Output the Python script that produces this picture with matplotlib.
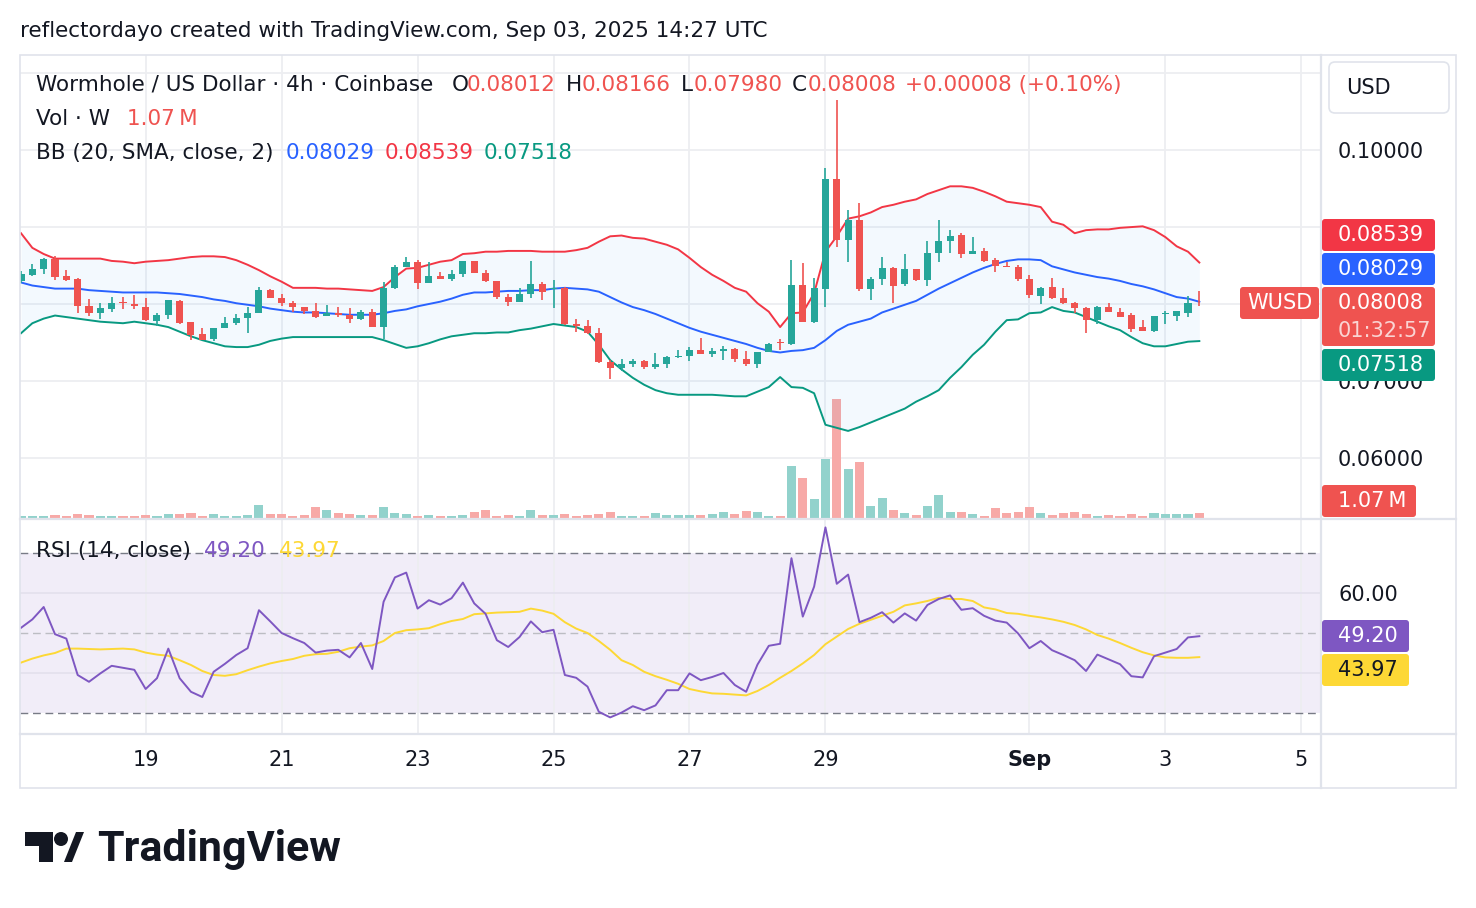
import numpy as np
import pandas as pd
import matplotlib
matplotlib.use("Agg")
import matplotlib.pyplot as plt
import matplotlib.dates as mdates
from matplotlib.patches import FancyBboxPatch, Polygon, Circle, Rectangle
from matplotlib.lines import Line2D
from matplotlib.transforms import IdentityTransform, blended_transform_factory

plt.rcParams['font.family'] = ['DejaVu Sans']

# ---------------- data ----------------
start_time = "2025-08-17 04:00"

opens = [0.08299, 0.08377, 0.08455, 0.08585, 0.08364, 0.08325, 0.07974, 0.07883, 0.07935, 0.08026,
         0.08000, 0.07961, 0.07785, 0.07857, 0.08039, 0.07766, 0.07610, 0.07545, 0.07688, 0.07753,
         0.07818, 0.07883, 0.08182, 0.08078, 0.08013, 0.07961, 0.07909, 0.07844, 0.07883, 0.07857,
         0.07805, 0.07896, 0.07701, 0.08208, 0.08481, 0.08546, 0.08273, 0.08364, 0.08325, 0.08390,
         0.08559, 0.08403, 0.08299, 0.08091, 0.08026, 0.08130, 0.08260, 0.08190, 0.08208, 0.07740,
         0.07714, 0.07623, 0.07246, 0.07168, 0.07220, 0.07259, 0.07181, 0.07220, 0.07311, 0.07324,
         0.07402, 0.07350, 0.07389, 0.07415, 0.07285, 0.07220, 0.07376, 0.07510, 0.07480, 0.08247,
         0.07766, 0.08195, 0.09625, 0.08832, 0.09092, 0.08195, 0.08325, 0.08468, 0.08260, 0.08455,
         0.08312, 0.08663, 0.08819, 0.08897, 0.08650, 0.08689, 0.08572, 0.08494, 0.08481, 0.08325,
         0.08108, 0.08221, 0.08078, 0.08013, 0.07948, 0.07792, 0.07961, 0.07896, 0.07857, 0.07701,
         0.07649, 0.07870, 0.07848, 0.07887, 0.08012]
highs = [0.08429, 0.08520, 0.08598, 0.08624, 0.08442, 0.08338, 0.08065, 0.08013, 0.08091, 0.08091,
         0.08117, 0.08078, 0.07883, 0.08058, 0.08052, 0.07770, 0.07688, 0.07690, 0.07831, 0.07870,
         0.07961, 0.08221, 0.08195, 0.08130, 0.08039, 0.07965, 0.08013, 0.07987, 0.07961, 0.07948,
         0.07922, 0.07935, 0.08286, 0.08507, 0.08611, 0.08572, 0.08546, 0.08416, 0.08442, 0.08565,
         0.08565, 0.08442, 0.08305, 0.08130, 0.08208, 0.08559, 0.08286, 0.08312, 0.08215, 0.07805,
         0.07792, 0.07688, 0.07272, 0.07285, 0.07285, 0.07272, 0.07363, 0.07324, 0.07402, 0.07441,
         0.07558, 0.07428, 0.07454, 0.07428, 0.07389, 0.07380, 0.07493, 0.07545, 0.08572, 0.08533,
         0.08338, 0.09768, 0.10652, 0.09222, 0.09313, 0.08351, 0.08611, 0.08481, 0.08650, 0.08460,
         0.08819, 0.09092, 0.08962, 0.08923, 0.08871, 0.08728, 0.08598, 0.08546, 0.08507, 0.08377,
         0.08215, 0.08338, 0.08208, 0.08026, 0.07961, 0.07974, 0.08013, 0.07948, 0.07883, 0.07792,
         0.07850, 0.07909, 0.07915, 0.08104, 0.08166]
lows = [0.08273, 0.08364, 0.08390, 0.08312, 0.08305, 0.07883, 0.07844, 0.07805, 0.07896, 0.07935,
        0.07935, 0.07779, 0.07714, 0.07805, 0.07740, 0.07532, 0.07530, 0.07519, 0.07685, 0.07727,
        0.07623, 0.07880, 0.08072, 0.07974, 0.07896, 0.07870, 0.07818, 0.07840, 0.07831, 0.07753,
        0.07792, 0.07695, 0.07545, 0.08200, 0.08475, 0.08195, 0.08270, 0.08320, 0.08299, 0.08351,
        0.08398, 0.08286, 0.08065, 0.07974, 0.08020, 0.08078, 0.08052, 0.07948, 0.07727, 0.07636,
        0.07610, 0.07233, 0.07025, 0.07129, 0.07181, 0.07155, 0.07155, 0.07168, 0.07298, 0.07259,
        0.07345, 0.07311, 0.07272, 0.07246, 0.07194, 0.07168, 0.07370, 0.07402, 0.07467, 0.07760,
        0.07753, 0.07961, 0.08741, 0.08546, 0.08169, 0.08052, 0.08247, 0.08013, 0.08234, 0.08305,
        0.08234, 0.08546, 0.08663, 0.08598, 0.08645, 0.08546, 0.08416, 0.08475, 0.08299, 0.08078,
        0.08000, 0.08065, 0.08006, 0.07883, 0.07623, 0.07740, 0.07890, 0.07825, 0.07636, 0.07645,
        0.07640, 0.07740, 0.07779, 0.07831, 0.07980]
closes = [0.08390, 0.08455, 0.08585, 0.08351, 0.08312, 0.07974, 0.07883, 0.07948, 0.08013, 0.08013,
          0.07974, 0.07792, 0.07857, 0.08052, 0.07753, 0.07597, 0.07532, 0.07688, 0.07753, 0.07818,
          0.07883, 0.08182, 0.08078, 0.08013, 0.07961, 0.07909, 0.07831, 0.07883, 0.07857, 0.07805,
          0.07896, 0.07701, 0.08208, 0.08481, 0.08546, 0.08273, 0.08364, 0.08325, 0.08390, 0.08559,
          0.08403, 0.08299, 0.08091, 0.08026, 0.08130, 0.08260, 0.08156, 0.08210, 0.07740, 0.07714,
          0.07623, 0.07246, 0.07168, 0.07220, 0.07259, 0.07181, 0.07220, 0.07311, 0.07324, 0.07402,
          0.07350, 0.07389, 0.07415, 0.07285, 0.07220, 0.07376, 0.07480, 0.07493, 0.08247, 0.07766,
          0.08208, 0.09625, 0.08832, 0.09092, 0.08195, 0.08325, 0.08468, 0.08234, 0.08455, 0.08312,
          0.08663, 0.08819, 0.08884, 0.08650, 0.08689, 0.08559, 0.08494, 0.08481, 0.08325, 0.08117,
          0.08208, 0.08078, 0.08013, 0.07948, 0.07792, 0.07961, 0.07896, 0.07831, 0.07675, 0.07649,
          0.07844, 0.07883, 0.07909, 0.08013, 0.08008]
volumes_m = [0.43, 0.43, 0.43, 0.64, 0.43, 0.86, 0.64, 0.43, 0.43, 0.43,
             0.43, 0.64, 0.43, 0.86, 0.86, 1.07, 0.43, 0.86, 0.43, 0.43,
             0.64, 2.78, 0.86, 0.86, 0.43, 0.64, 2.35, 1.71, 1.07, 0.86,
             0.64, 0.64, 2.35, 1.07, 0.86, 0.43, 0.64, 0.43, 0.43, 0.64,
             1.28, 1.71, 0.43, 0.64, 0.43, 1.71, 0.64, 0.64, 0.86, 0.43,
             0.64, 0.86, 1.28, 0.43, 0.43, 0.43, 1.07, 0.64, 0.64, 0.64,
             0.64, 0.86, 1.28, 0.86, 1.50, 1.28, 0.43, 0.43, 11.13, 8.56,
             4.07, 12.63, 25.47, 10.49, 11.98, 2.57, 4.28, 1.71, 1.07, 0.64,
             2.57, 4.92, 1.28, 1.28, 0.86, 0.43, 2.14, 1.07, 1.28, 2.35,
             1.07, 0.64, 1.07, 1.28, 0.86, 0.43, 0.64, 0.43, 0.86, 0.43,
             1.07, 0.86, 0.86, 0.86, 1.07]
bb_upper = [0.0892, 0.0873, 0.0865, 0.0859, 0.0859, 0.0859, 0.0859, 0.0859, 0.0856, 0.0855,
            0.0853, 0.0855, 0.0856, 0.0857, 0.0859, 0.0861, 0.0862, 0.0862, 0.0861, 0.0857,
            0.0851, 0.0844, 0.0836, 0.0829, 0.0821, 0.0821, 0.0821, 0.0820, 0.0820, 0.0819,
            0.0818, 0.0817, 0.0822, 0.0835, 0.0846, 0.0847, 0.0851, 0.0855, 0.0857, 0.0865,
            0.0866, 0.0868, 0.0868, 0.0869, 0.0869, 0.0869, 0.0868, 0.0868, 0.0868, 0.0870,
            0.0873, 0.0881, 0.0888, 0.0889, 0.0886, 0.0885, 0.0881, 0.0877, 0.0871, 0.0860,
            0.0848, 0.0838, 0.0830, 0.0821, 0.0816, 0.0801, 0.0790, 0.0770, 0.0788, 0.0789,
            0.0814, 0.0868, 0.0888, 0.0911, 0.0914, 0.0919, 0.0926, 0.0929, 0.0933, 0.0936,
            0.0943, 0.0948, 0.0953, 0.0953, 0.0951, 0.0946, 0.0940, 0.0933, 0.0931, 0.0929,
            0.0926, 0.0907, 0.0903, 0.0892, 0.0896, 0.0897, 0.0897, 0.0899, 0.0900, 0.0901,
            0.0896, 0.0887, 0.0875, 0.0868, 0.08539]
bb_basis = [0.0828, 0.0824, 0.0822, 0.0820, 0.0820, 0.0820, 0.0818, 0.0817, 0.0816, 0.0815,
            0.0815, 0.0815, 0.0815, 0.0814, 0.0813, 0.0811, 0.0809, 0.0806, 0.0804, 0.0801,
            0.0799, 0.0797, 0.0794, 0.0792, 0.0790, 0.0789, 0.0789, 0.0788, 0.0787, 0.0786,
            0.0786, 0.0786, 0.0788, 0.0791, 0.0793, 0.0797, 0.0800, 0.0803, 0.0807, 0.0812,
            0.0815, 0.0815, 0.0816, 0.0817, 0.0817, 0.0818, 0.0818, 0.0820, 0.0821, 0.0820,
            0.0819, 0.0816, 0.0809, 0.0802, 0.0796, 0.0792, 0.0787, 0.0781, 0.0775, 0.0769,
            0.0764, 0.0760, 0.0756, 0.0752, 0.0748, 0.0743, 0.0739, 0.0737, 0.0739, 0.0740,
            0.0743, 0.0753, 0.0765, 0.0773, 0.0777, 0.0781, 0.0789, 0.0794, 0.0799, 0.0804,
            0.0812, 0.0820, 0.0827, 0.0834, 0.0841, 0.0847, 0.0852, 0.0856, 0.0858, 0.0858,
            0.0857, 0.0849, 0.0845, 0.0841, 0.0838, 0.0835, 0.0833, 0.0830, 0.0826, 0.0823,
            0.0819, 0.0814, 0.0809, 0.0807, 0.08029]
bb_lower = [0.0762, 0.0775, 0.0781, 0.0785, 0.0783, 0.0781, 0.0779, 0.0777, 0.0776, 0.0775,
            0.0777, 0.0775, 0.0773, 0.0770, 0.0764, 0.0758, 0.0753, 0.0749, 0.0745, 0.0744,
            0.0744, 0.0747, 0.0752, 0.0755, 0.0757, 0.0757, 0.0757, 0.0757, 0.0757, 0.0757,
            0.0757, 0.0757, 0.0753, 0.0748, 0.0743, 0.0745, 0.0749, 0.0754, 0.0758, 0.0760,
            0.0762, 0.0762, 0.0763, 0.0763, 0.0766, 0.0768, 0.0771, 0.0774, 0.0772, 0.0770,
            0.0764, 0.0747, 0.0727, 0.0715, 0.0704, 0.0695, 0.0688, 0.0684, 0.0682, 0.0682,
            0.0682, 0.0682, 0.0681, 0.0680, 0.0680, 0.0686, 0.0692, 0.0705, 0.0692, 0.0691,
            0.0684, 0.0643, 0.0639, 0.0635, 0.0640, 0.0646, 0.0652, 0.0658, 0.0664, 0.0673,
            0.0680, 0.0688, 0.0704, 0.0718, 0.0734, 0.0747, 0.0764, 0.0779, 0.0780, 0.0788,
            0.0789, 0.0796, 0.0791, 0.0789, 0.0783, 0.0777, 0.0771, 0.0766, 0.0757, 0.0749,
            0.0745, 0.0745, 0.0748, 0.0751, 0.07518]
rsi = [51.3, 53.4, 56.5, 49.7, 48.6, 39.5, 37.8, 39.9, 41.8, 41.3,
       40.8, 36.0, 38.7, 46.1, 38.7, 35.3, 34.0, 40.3, 42.3, 44.5,
       46.2, 55.7, 52.9, 50.0, 48.7, 47.5, 45.1, 45.6, 45.8, 43.9,
       47.5, 41.0, 57.8, 63.9, 65.1, 56.1, 58.2, 57.1, 58.7, 62.6,
       57.4, 54.8, 48.2, 46.5, 49.0, 52.9, 50.2, 50.8, 39.5, 38.8,
       36.6, 30.3, 28.9, 30.1, 31.7, 30.7, 31.9, 35.7, 35.7, 39.9,
       38.2, 39.0, 40.0, 37.0, 35.3, 42.1, 46.8, 47.3, 68.7, 54.1,
       61.6, 76.4, 62.3, 64.6, 52.7, 53.8, 55.2, 52.6, 54.9, 53.1,
       57.0, 58.5, 59.4, 55.8, 56.2, 54.3, 53.1, 52.6, 49.9, 46.2,
       48.0, 45.7, 44.5, 43.2, 40.5, 44.6, 43.4, 42.2, 39.2, 38.9,
       44.2, 45.1, 46.0, 48.9, 49.20]
rsi_ma = [42.6, 43.6, 44.4, 45.0, 46.1, 46.1, 46.0, 45.9, 46.0, 46.1,
          45.9, 45.1, 44.6, 44.3, 43.2, 42.0, 40.5, 39.5, 39.3, 39.7,
          40.7, 41.6, 42.4, 43.0, 43.5, 44.3, 44.7, 44.8, 45.3, 46.2,
          46.6, 46.9, 48.0, 50.0, 50.7, 50.9, 51.2, 52.2, 53.0, 53.5,
          54.7, 54.9, 55.1, 55.2, 55.3, 56.1, 55.6, 54.8, 52.7, 51.1,
          50.0, 48.0, 45.8, 43.2, 42.0, 40.3, 39.2, 38.3, 37.3, 36.0,
          35.4, 34.9, 34.8, 34.6, 34.4, 35.5, 37.0, 38.8, 40.5, 42.4,
          44.5, 47.2, 49.1, 51.0, 52.3, 53.3, 54.3, 55.3, 56.9, 57.4,
          58.0, 58.8, 58.5, 58.5, 58.0, 56.4, 55.9, 55.0, 54.8, 54.3,
          53.9, 53.4, 52.8, 52.0, 50.9, 49.5, 48.6, 47.5, 46.3, 45.2,
          44.4, 43.9, 43.8, 43.8, 43.97]

date_ticks = ["2025-08-19", "2025-08-21", "2025-08-23", "2025-08-25", "2025-08-27",
              "2025-08-29", "2025-09-01", "2025-09-03", "2025-09-05"]
date_labels = ["19", "21", "23", "25", "27", "29", "Sep", "3", "5"]
price_ticks = [0.06, 0.07, 0.08, 0.09, 0.10, 0.11]
price_tick_labels = ["0.06000", "0.07000", "", "0.09000", "0.10000", ""]   # 0.08 / 0.11 sit under tags
rsi_ticks = [40, 60]
rsi_tick_labels = ["", "60.00"]                                            # 40 sits under the MA tag

# ---------------- setup ----------------
W, H = 1476, 908
fig = plt.figure(figsize=(W / 100, H / 100), dpi=100)
fig.patch.set_facecolor("white")
ID = IdentityTransform()

DARK = "#131722"
UP = "#26A69A"
DOWN = "#EF5350"
GRID = "#EDEEF1"
SEP = "#E0E3EB"
HFS = 15.5   # header font size
AFS = 15     # axis font size


def rect(x0, y0, x1, y1):
    return [x0 / W, 1 - y1 / H, (x1 - x0) / W, (y1 - y0) / H]


def ftext(x, y, s, color=DARK, size=AFS, ha="left", va="center", weight="normal", family=None, z=10):
    kw = {}
    if family is not None:
        kw["family"] = family
    fig.text(x, H - y, s, transform=ID, color=color, fontsize=size, ha=ha, va=va,
             fontweight=weight, zorder=z, **kw)


def fbox(x0, y0, x1, y1, fc, ec="none", r=3, lw=0.0, z=5):
    p = FancyBboxPatch((x0, H - y1), x1 - x0, y1 - y0,
                       boxstyle=f"round,pad=0,rounding_size={r}",
                       transform=ID, fc=fc, ec=ec, lw=lw, zorder=z)
    fig.add_artist(p)


def fline(x0, y0, x1, y1, color=SEP, lw=1.5, z=4):
    fig.add_artist(Line2D([x0, x1], [H - y0, H - y1], transform=ID, color=color, lw=lw, zorder=z))


times = pd.date_range(start_time, periods=len(closes), freq="4h")
x = mdates.date2num(times.to_pydatetime())
step = 4.0 / 24.0
xmin = x[0] - 0.09 * step
xmax = x[0] + 114.65 * step
tick_x = mdates.date2num(pd.to_datetime(date_ticks).to_pydatetime())

o = np.array(opens); hi = np.array(highs); lo = np.array(lows); c = np.array(closes)
up = c >= o
cols = np.where(up, UP, DOWN)
vcols = np.where(up, "#92D2CC", "#F7A9A7")

PMIN, PMAX = 0.05218, 0.11237
VMAX = 99.1

# ---------------- main pane ----------------
main_rect = rect(20, 55, 1320, 518)
ax_vol = fig.add_axes(main_rect)
ax_vol.set_zorder(1)
ax_main = fig.add_axes(main_rect, sharex=ax_vol)
ax_main.set_zorder(2)
ax_main.patch.set_visible(False)

ax_vol.bar(x, volumes_m, width=0.8 * step, color=vcols, zorder=2)
ax_vol.set_ylim(0, VMAX)
ax_vol.set_xlim(xmin, xmax)
ax_vol.axis("off")
for t in tick_x:
    ax_vol.axvline(t, color=GRID, lw=1.3, zorder=0)
for p in price_ticks:
    ax_vol.axhline((p - PMIN) / (PMAX - PMIN) * VMAX, color=GRID, lw=1.3, zorder=0)

ax_main.fill_between(x, bb_lower, bb_upper, color="#2196F3", alpha=0.05, lw=0, zorder=1)
ax_main.plot(x, bb_upper, color="#F23645", lw=1.4, zorder=2)
ax_main.plot(x, bb_basis, color="#2962FF", lw=1.4, zorder=2)
ax_main.plot(x, bb_lower, color="#089981", lw=1.4, zorder=2)

ax_main.vlines(x, lo, hi, colors=cols, lw=1.2, zorder=3)
body_h = np.maximum(np.abs(c - o), 0.0001)
ax_main.bar(x, body_h, bottom=np.minimum(o, c), width=0.62 * step, color=cols, zorder=4)

ax_main.set_xlim(xmin, xmax)
ax_main.set_ylim(PMIN, PMAX)
for s in ax_main.spines.values():
    s.set_visible(False)
ax_main.set_xticks([])
ax_main.yaxis.tick_right()
ax_main.set_yticks(price_ticks)
ax_main.set_yticklabels(price_tick_labels)
ax_main.tick_params(axis="y", length=0, pad=13, labelsize=AFS, labelcolor=DARK)
for lab in ax_main.get_yticklabels():
    lab.set_horizontalalignment("left")

# ---------------- RSI pane ----------------
ax_rsi = fig.add_axes(rect(20, 519, 1320, 733), sharex=ax_vol)
ax_rsi.axhspan(30, 70, color="#7E57C2", alpha=0.1, lw=0, zorder=0)
for t in tick_x:
    ax_rsi.axvline(t, color=GRID, lw=1.3, zorder=0.5)
for r in rsi_ticks:
    ax_rsi.axhline(r, color="#E4E1EE", lw=1.3, zorder=0.5)
ax_rsi.axhline(70, color="#787B86", lw=1.0, dashes=(5.6, 3.4), zorder=1)
ax_rsi.axhline(30, color="#787B86", lw=1.0, dashes=(5.6, 3.4), zorder=1)
ax_rsi.axhline(50, color="#BCBDC3", lw=1.0, dashes=(5.6, 3.4), zorder=1)
ax_rsi.plot(x, rsi_ma, color="#FDD835", lw=1.4, zorder=2)
ax_rsi.plot(x, rsi, color="#7E57C2", lw=1.4, zorder=3)
ax_rsi.set_xlim(xmin, xmax)
ax_rsi.set_ylim(25.0, 78.5)
for s in ax_rsi.spines.values():
    s.set_visible(False)
ax_rsi.set_xticks([])
ax_rsi.yaxis.tick_right()
ax_rsi.set_yticks(rsi_ticks)
ax_rsi.set_yticklabels(rsi_tick_labels)
ax_rsi.tick_params(axis="y", length=0, pad=13, labelsize=AFS, labelcolor=DARK)
for lab in ax_rsi.get_yticklabels():
    lab.set_horizontalalignment("left")

# ---------------- time axis ----------------
ax_time = fig.add_axes(rect(20, 734, 1320, 787), sharex=ax_vol)
ax_time.axis("off")
ax_time.set_xlim(xmin, xmax)
tr = blended_transform_factory(ax_time.transData, ax_time.transAxes)
for t, lab in zip(tick_x, date_labels):
    ax_time.text(t, 0.5, lab, transform=tr, ha="center", va="center", fontsize=AFS,
                 color=DARK, fontweight="bold" if lab == "Sep" else "normal")

# ---------------- frame / separators ----------------
fig.add_artist(Rectangle((20, H - 788), 1436, 733, transform=ID, fill=False, ec=SEP, lw=1.2, zorder=4))
fline(20, 518.5, 1456, 518.5, lw=1.6)
fline(20, 733.5, 1456, 733.5, lw=1.6)
fline(1320.5, 55, 1320.5, 788, lw=1.6)

# ---------------- header texts ----------------
ftext(20, 31, "reflectordayo created with TradingView.com, Sep 03, 2025 14:27 UTC", size=HFS)

ftext(36, 85, "Wormhole / US Dollar · 4h · Coinbase", size=HFS)
ftext(452, 85, "O", size=HFS); ftext(467, 85, f"{opens[-1]:.5f}", color=DOWN, size=HFS)
ftext(566, 85, "H", size=HFS); ftext(582, 85, f"{highs[-1]:.5f}", color=DOWN, size=HFS)
ftext(681, 85, "L", size=HFS); ftext(694, 85, f"{lows[-1]:.5f}", color=DOWN, size=HFS)
ftext(792, 85, "C", size=HFS); ftext(808, 85, f"{closes[-1]:.5f}", color=DOWN, size=HFS)
ftext(905, 85, "+0.00008 (+0.10%)", color=DOWN, size=HFS)

ftext(36, 119, "Vol · W", size=HFS)
ftext(127, 119, f"{volumes_m[-1]:.2f}\u2009M", color=DOWN, size=HFS)

ftext(36, 153, "BB (20, SMA, close, 2)", size=HFS)
ftext(286, 153, f"{bb_basis[-1]:.5f}", color="#2962FF", size=HFS)
ftext(385, 153, f"{bb_upper[-1]:.5f}", color="#F23645", size=HFS)
ftext(484, 153, f"{bb_lower[-1]:.5f}", color="#089981", size=HFS)

ftext(36, 551, "RSI (14, close)", size=HFS)
ftext(204, 551, f"{rsi[-1]:.2f}", color="#7E57C2", size=HFS)
ftext(279, 551, f"{rsi_ma[-1]:.2f}", color="#FDD835", size=HFS)

# ---------------- right scale tags ----------------
fbox(1329, 62, 1449, 113, "white", ec=SEP, r=6, lw=1.2)
ftext(1346, 88, "USD", size=AFS)

fbox(1322, 219, 1435, 251, "#F23645")
ftext(1338, 235, f"{bb_upper[-1]:.5f}", color="white", size=AFS)
fbox(1322, 253, 1435, 285, "#2962FF")
ftext(1338, 269, f"{bb_basis[-1]:.5f}", color="white", size=AFS)
fbox(1322, 287, 1435, 346, DOWN)
ftext(1338, 303, f"{closes[-1]:.5f}", color="white", size=AFS)
ftext(1338, 331, "01:32:57", color="#FAD4D3", size=AFS)
fbox(1322, 349, 1435, 381, "#089981")
ftext(1338, 365, f"{bb_lower[-1]:.5f}", color="white", size=AFS)
fbox(1240, 287, 1319, 319, DOWN)
ftext(1279.5, 303, "WUSD", color="white", size=AFS, ha="center")
fbox(1322, 485, 1416, 517, DOWN)
ftext(1338, 501, f"{volumes_m[-1]:.2f}\u2009M", color="white", size=AFS)
fbox(1322, 620, 1409, 652, "#7E57C2")
ftext(1338, 636, f"{rsi[-1]:.2f}", color="white", size=AFS)
fbox(1322, 654, 1409, 686, "#FDD835")
ftext(1338, 670, f"{rsi_ma[-1]:.2f}", color=DARK, size=AFS)

# ---------------- TradingView logo ----------------
def P(pts):
    return [(px, H - py) for px, py in pts]

fig.add_artist(Polygon(P([(25, 832), (53, 832), (53, 862), (39, 862), (39, 846), (25, 846)]),
                       closed=True, transform=ID, fc=DARK, ec="none", zorder=5))
fig.add_artist(Circle((61, H - 839), 7, transform=ID, fc=DARK, ec="none", zorder=5))
fig.add_artist(Polygon(P([(64, 862), (76, 832), (84, 832), (72, 862)]),
                       closed=True, transform=ID, fc=DARK, ec="none", zorder=5))
ftext(97, 849, "TradingView", size=31, weight="bold", family=["Roboto", "DejaVu Sans"])

fig.savefig("out.png", dpi=100, facecolor="white")
